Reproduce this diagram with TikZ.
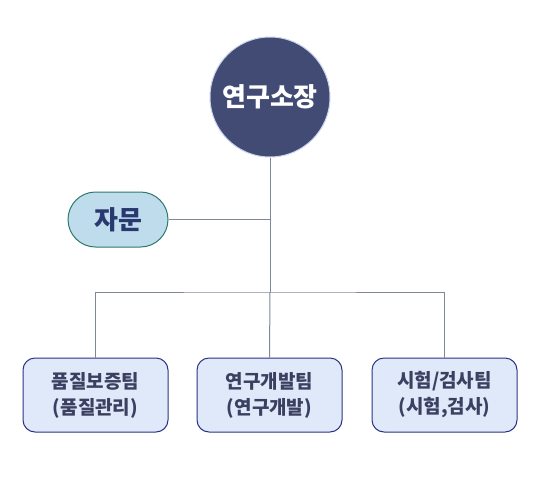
\documentclass[tikz,border=0pt]{standalone}
\usepackage{fontspec}
\setmainfont{Noto Sans CJK KR}
\usetikzlibrary{shapes.misc}
\definecolor{headfill}{HTML}{414B74}
\definecolor{headdraw}{HTML}{C9D3EE}
\definecolor{advfill}{HTML}{BEDCEC}
\definecolor{advdraw}{HTML}{2E7A6A}
\definecolor{advtext}{HTML}{2A3870}
\definecolor{teamfill}{HTML}{DFE9FA}
\definecolor{teamdraw}{HTML}{2A3482}
\definecolor{teamtext}{HTML}{3B4060}
\definecolor{linecol}{HTML}{7F879A}
\tikzset{
  x=1pt,y=-1pt,
  head/.style={circle,fill=headfill,draw=headdraw,line width=1pt,minimum size=120pt,inner sep=0pt,text=white,font=\bfseries\fontsize{26}{30}\selectfont},
  adv/.style={rounded rectangle,fill=advfill,draw=advdraw,line width=1pt,minimum width=100pt,minimum height=55pt,inner sep=0pt,text=advtext,font=\bfseries\fontsize{26}{30}\selectfont},
  team/.style={rectangle,rounded corners=12pt,fill=teamfill,draw=teamdraw,line width=1pt,minimum width=145pt,minimum height=74pt,inner sep=0pt,align=center,text=teamtext,font=\bfseries\fontsize{19}{26}\selectfont},
  conn/.style={draw=linecol,line width=1pt}
}
\begin{document}
\begin{tikzpicture}
\useasboundingbox (0,0) rectangle (540,490);
\node[head] (h) at (270,97) {연구소장};
\node[adv] (a) at (118,219.5) {자문};
\node[team] (t1) at (95.5,395) {품질보증팀\\(품질관리)};
\node[team] (t2) at (269.5,395) {연구개발팀\\(연구개발)};
\node[team] (t3) at (444.5,395) {시험/검사팀\\(시험,검사)};
\coordinate (j1) at (270,219.5);
\coordinate (j2) at (270,292);
\draw[conn] (h.south) -- (j2);
\draw[conn] (a.east) -- (j1);
\draw[conn] (t1.north) |- (j2) -| (t3.north);
\draw[conn] (j2) -- (t2.north);
\end{tikzpicture}
\end{document}
